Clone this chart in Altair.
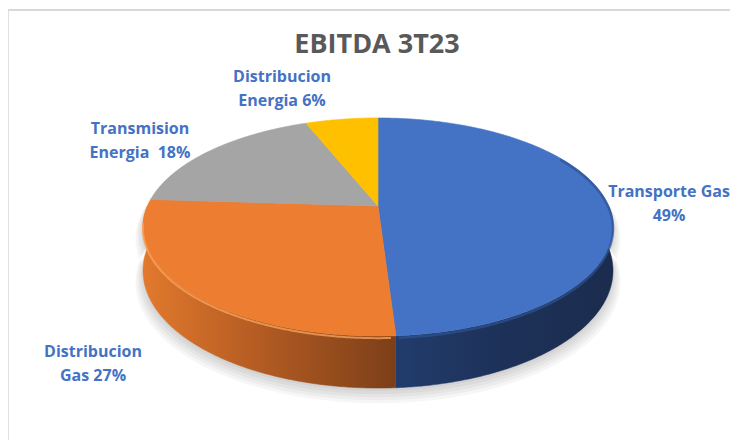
import altair as alt
import numpy as np
import pandas as pd

# ---------------- data ----------------
categories = ["Transporte Gas", "Distribucion Gas", "Transmision Energia", "Distribucion Energia"]
values = [49, 27, 18, 6]
label_templates = ["Transporte Gas\n{p}%", "Distribucion\nGas {p}%", "Transmision\nEnergia\u00a0 {p}%", "Distribucion\nEnergia {p}%"]
colors = ["#4472C4", "#ED7D31", "#A5A5A5", "#FFC000"]
title_text = "EBITDA 3T23"

# ---------------- layout (page pixels) ----------------
W, H = 722, 432
CX, CY = 378.0, 206.0      # apex of the pie on screen
RX, RY = 230.6, 105.0      # projected radii
PERSP = 0.1927             # perspective strength
DEPTH = 42.0               # thickness of the pie
label_pos = [(669, 197), (93, 357), (140, 134), (282, 82)]
title_pos = (377, 53)

XS = alt.Scale(domain=[8, 8 + W], nice=False, zero=False)
YS = alt.Scale(domain=[8, 8 + H], nice=False, zero=False, reverse=True)


def proj(theta_deg, h=0.0, grow=1.0, dy=0.0):
    t = np.radians(theta_deg)
    u = np.sin(t)
    v = -np.cos(t)
    s = 1.0 / (1.0 - PERSP * v)
    x = CX + grow * RX * u * s
    y = CY + grow * RY * v * s + h * DEPTH * s + dy
    return float(x), float(y)


def arc(a, b, step=0.5):
    n = max(2, int(np.ceil((b - a) / step)) + 1)
    return list(np.linspace(a, b, n))


total = float(sum(values))
ends = np.cumsum(values) / total * 360.0
starts = np.concatenate([[0.0], ends[:-1]])

# top face polygons
top_rows = []
for cat, a, b in zip(categories, starts, ends):
    pts = [(CX, CY)] + [proj(t) for t in arc(a, b)] + [(CX, CY)]
    for k, (x, y) in enumerate(pts):
        top_rows.append({"slice": cat, "i": k, "x": x, "y": y})
top_df = pd.DataFrame(top_rows)

# side polygons (front half only)
side_dfs = {}
for cat, a, b in zip(categories, starts, ends):
    lo, hi = max(a, 90.0), min(b, 270.0)
    if hi <= lo:
        continue
    ts = arc(lo, hi)
    pts = [proj(t, 0) for t in ts] + [proj(t, 1) for t in ts[::-1]]
    side_dfs[cat] = pd.DataFrame([{"slice": cat, "i": k, "x": x, "y": y} for k, (x, y) in enumerate(pts)])

# shadow rings
shadow_rows = []
for j, (g, dy) in enumerate([(1.0, 3), (1.008, 5), (1.016, 7), (1.024, 9), (1.032, 11)]):
    ts = arc(60, 300, 1.0)
    pts = [proj(t, 0, g, dy) for t in ts] + [proj(t, 1, g, dy) for t in ts[::-1]]
    for k, (x, y) in enumerate(pts):
        shadow_rows.append({"ring": j, "i": k, "x": x, "y": y})
shadow_df = pd.DataFrame(shadow_rows)

# rim highlight lines
rim_orange = pd.DataFrame([{"i": k, "x": x, "y": y} for k, (x, y) in
                           enumerate(proj(t, 0.04) for t in arc(starts[1] + 1, 262))])
rim_blue = pd.DataFrame([{"i": k, "x": x, "y": y} for k, (x, y) in
                         enumerate(proj(t, 0.04) for t in arc(60, starts[1] - 0.5))])

labels_df = pd.DataFrame({
    "x": [p[0] for p in label_pos],
    "y": [p[1] for p in label_pos],
    "text": [tpl.format(p=v) for tpl, v in zip(label_templates, values)],
})
title_df = pd.DataFrame({"x": [title_pos[0]], "y": [title_pos[1]], "text": [title_text]})

enc_xy = dict(
    x=alt.X("x:Q", scale=XS, axis=None),
    y=alt.Y("y:Q", scale=YS, axis=None),
    order=alt.Order("i:Q"),
)

color_scale = alt.Scale(domain=categories, range=colors)

frame_top = alt.Chart(pd.DataFrame({"a": [0]})).mark_rule(color="#d9d9d9", strokeWidth=2).encode(
    x=alt.value(-1), x2=alt.value(W + 20), y=alt.value(2))
frame_left = alt.Chart(pd.DataFrame({"a": [0]})).mark_rule(color="#d9d9d9", strokeWidth=2).encode(
    x=alt.value(-0.2), y=alt.value(1), y2=alt.value(H + 20))

shadow = alt.Chart(shadow_df).mark_line(fill="#000000", fillOpacity=0.035, strokeWidth=0).encode(
    detail="ring:N", **enc_xy)

side_grads = {
    "Transporte Gas": alt.Gradient(gradient="linear", x1=0, y1=0, x2=1, y2=0, stops=[
        alt.GradientStop(offset=0, color="#213c6c"),
        alt.GradientStop(offset=0.5, color="#1d3158"),
        alt.GradientStop(offset=1, color="#1b2c4e")]),
    "Distribucion Gas": alt.Gradient(gradient="linear", x1=0, y1=0, x2=1, y2=0, stops=[
        alt.GradientStop(offset=0, color="#e2792d"),
        alt.GradientStop(offset=0.45, color="#b45c23"),
        alt.GradientStop(offset=1, color="#7c3f18")]),
}
sides = []
for cat, df in side_dfs.items():
    g = side_grads.get(cat, colors[categories.index(cat)])
    sides.append(alt.Chart(df).mark_line(fill=g, stroke=g, strokeWidth=0.5).encode(**enc_xy))

top = alt.Chart(top_df).mark_line(strokeWidth=0.6).encode(
    detail="slice:N",
    fill=alt.Fill("slice:N", scale=color_scale, legend=None),
    stroke=alt.Stroke("slice:N", scale=color_scale, legend=None),
    **enc_xy)

rim1 = alt.Chart(rim_orange).mark_line(color="#f7a05a", strokeWidth=2, opacity=0.8).encode(**enc_xy)
rim2 = alt.Chart(rim_blue).mark_line(color="#2e5393", strokeWidth=2.5, opacity=0.7).encode(**enc_xy)

labels = alt.Chart(labels_df).mark_text(
    align="center", baseline="alphabetic", font="Open Sans", fontWeight="bold",
    fontSize=16, color="#4472C4", lineBreak="\n", lineHeight=24).encode(
    x=alt.X("x:Q", scale=XS, axis=None), y=alt.Y("y:Q", scale=YS, axis=None), text="text:N")

title = alt.Chart(title_df).mark_text(
    align="center", baseline="alphabetic", font="Open Sans", fontWeight="bold",
    fontSize=27, color="#595959").encode(
    x=alt.X("x:Q", scale=XS, axis=None), y=alt.Y("y:Q", scale=YS, axis=None), text="text:N")

chart = alt.layer(frame_top, frame_left, shadow, *sides, top, rim1, rim2, labels, title).properties(
    width=W, height=H, padding=0, autosize="none", background="#ffffff"
).configure_view(strokeWidth=0)

chart.save("out.html", embed_options={"renderer": "svg", "actions": False})
